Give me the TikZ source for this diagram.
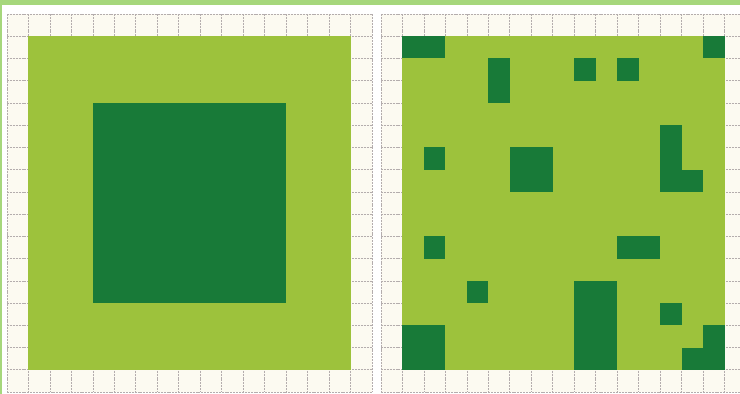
\documentclass[tikz,border=0pt]{standalone}
\usepackage{tikz}
\definecolor{paper}{HTML}{FCFAF1}
\definecolor{grass}{HTML}{9DC23C}
\definecolor{forest}{HTML}{187A38}
\definecolor{rim}{HTML}{A6D77C}
\definecolor{gridln}{HTML}{B4ADAD}

\begin{document}
\begin{tikzpicture}[x=1pt, y=-1pt,
    rimband/.style ={fill=rim},
    cellbg/.style  ={fill=paper},
    gridline/.style={draw=gridln, line width=0.7pt, dash pattern=on 2pt off 0.9pt},
    field/.style   ={fill=grass},
    patch/.style   ={fill=forest}]
    \useasboundingbox (0,0) rectangle (740,394);
    \clip (0,0) rectangle (740,394);
    \fill[white] (0,0) rectangle (740,394);
    \fill[rimband] (0,0) rectangle (740,4.5);
    \fill[rimband] (0,0) rectangle (2,394);
    % left panel: one big block
    \begin{scope}[shift={(7,14)}, x=21.47pt, y=-22.24pt]
      \fill[cellbg] (0,0) rectangle (17,17);
      \foreach \i in {0,...,17} {
        \draw[gridline] (\i,0) -- (\i,17);
        \draw[gridline] (0,\i) -- (17,\i);
      }
      \fill[field] (1,1) rectangle (16,16);
      \fill[patch] (4,4) rectangle (13,13);
    \end{scope}
    % right panel: scattered blocks
    \begin{scope}[shift={(381,14)}, x=21.47pt, y=-22.24pt]
      \fill[cellbg] (0,0) rectangle (17,17);
      \foreach \i in {0,...,17} {
        \draw[gridline] (\i,0) -- (\i,17);
        \draw[gridline] (0,\i) -- (17,\i);
      }
      \fill[field] (1,1) rectangle (16,16);
      \foreach \c/\r/\w/\h in {1/1/2/1, 15/1/1/1, 5/2/1/2, 9/2/1/1, 11/2/1/1,
          2/6/1/1, 6/6/2/2, 13/5/1/3, 14/7/1/1, 2/10/1/1, 11/10/2/1,
          4/12/1/1, 9/12/2/4, 13/13/1/1, 1/14/2/2, 15/14/1/2, 14/15/1/1}
        \fill[patch] (\c,\r) rectangle ++(\w,\h);
    \end{scope}
  \end{tikzpicture}
\end{document}
